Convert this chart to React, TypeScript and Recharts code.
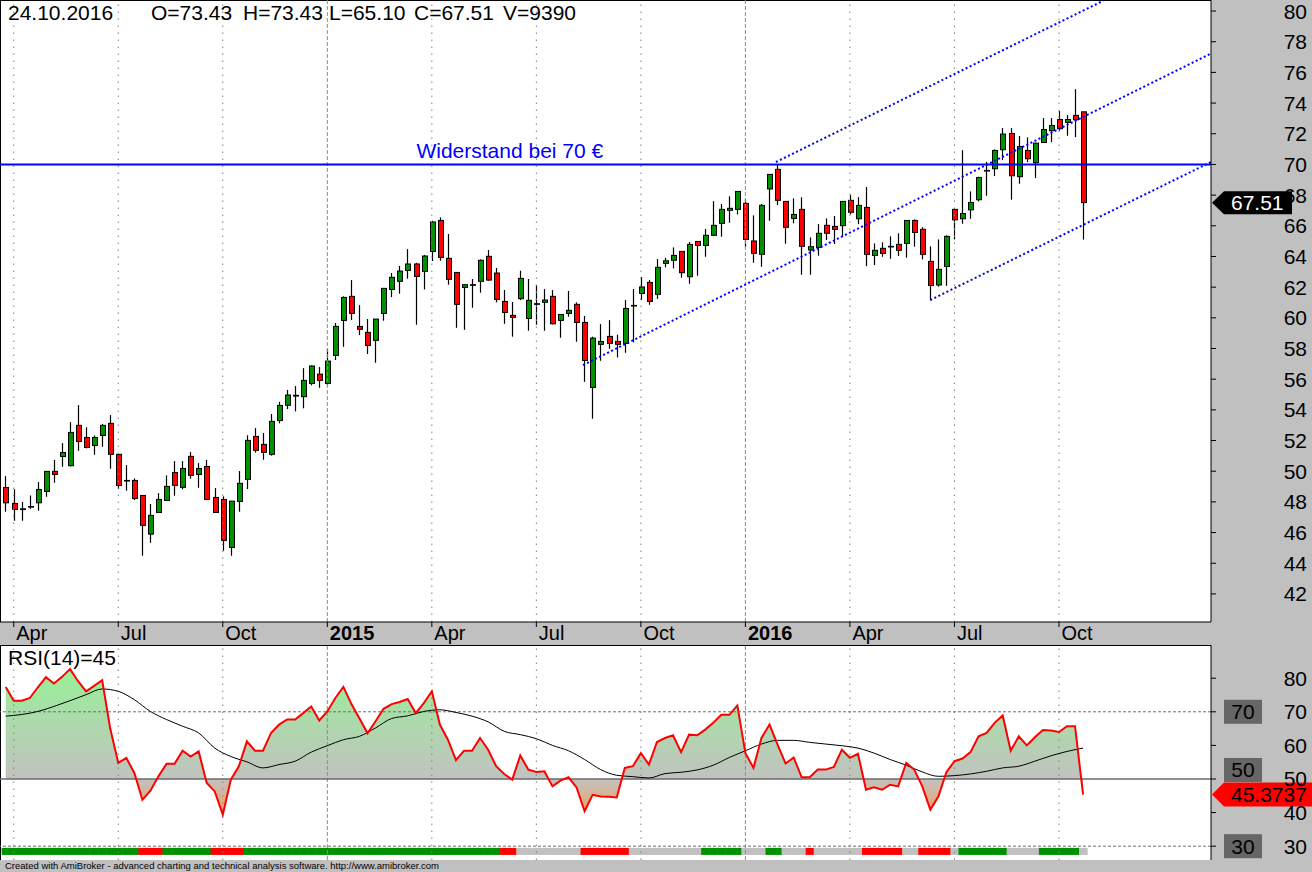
import React from 'react';
import { ComposedChart, Bar, Area, Line, XAxis, YAxis, ReferenceLine, ReferenceDot } from 'recharts';

const FONT = "'Liberation Sans', Arial, sans-serif";
const GREEN = '#009000';
const RED = '#ff0000';
const BLUE = '#0000ff';

// ---- weekly OHLC, 31.03.2014 .. 24.10.2016 ----
const opens = [
  48.94, 47.90, 47.50, 47.66, 47.94, 48.68, 49.99, 50.96, 50.36, 52.99,
  52.20, 51.68, 52.33, 53.12, 51.10, 49.36, 49.40, 48.42, 45.90, 47.31,
  48.10, 49.92, 48.95, 50.97, 49.79, 50.31, 48.29, 48.16, 45.03, 48.03,
  49.47, 52.27, 51.75, 51.10, 53.31, 54.30, 54.90, 54.86, 55.72, 56.33,
  55.72, 57.55, 59.83, 61.40, 59.44, 59.05, 58.53, 60.29, 61.85, 62.38,
  63.09, 63.51, 63.03, 64.33, 66.35, 63.88, 62.96, 61.98, 62.12, 62.38,
  64.01, 62.92, 61.07, 60.16, 61.25, 59.96, 60.88, 61.01, 61.40, 59.83,
  60.29, 60.88, 59.70, 55.46, 58.27, 58.79, 58.46, 58.33, 60.77, 61.59,
  62.31, 61.53, 63.55, 63.75, 64.33, 62.68, 64.98, 64.72, 65.38, 66.16,
  67.01, 67.07, 67.46, 65.01, 64.14, 68.40, 69.68, 67.59, 66.48, 67.07,
  64.42, 64.59, 66.03, 65.96, 66.01, 67.66, 66.46, 67.20, 64.07, 64.53,
  64.62, 64.79, 64.85, 66.35, 65.77, 63.68, 62.14, 63.35, 67.07, 66.46,
  67.04, 67.70, 69.57, 69.72, 70.96, 72.02, 69.20, 70.91, 70.11, 71.43,
  72.20, 72.93, 72.74, 73.20, 73.43,
];
const highs = [
  49.68, 48.83, 47.99, 48.42, 49.29, 49.99, 50.73, 51.83, 53.20, 54.31,
  52.86, 52.33, 53.09, 53.66, 51.12, 50.40, 49.53, 48.44, 47.86, 48.57,
  49.73, 50.66, 50.66, 51.25, 50.53, 50.73, 48.90, 48.36, 48.07, 50.01,
  52.34, 52.81, 52.49, 53.73, 54.53, 55.30, 55.55, 56.72, 56.90, 56.79,
  57.98, 59.66, 61.40, 62.46, 60.83, 59.92, 59.92, 61.95, 62.92, 63.38,
  64.48, 63.59, 64.10, 66.33, 66.55, 65.46, 62.98, 62.18, 62.53, 63.81,
  64.42, 63.25, 61.81, 61.03, 63.07, 62.53, 62.14, 61.88, 61.81, 60.24,
  61.75, 61.01, 60.12, 58.77, 59.59, 59.85, 58.90, 61.16, 61.88, 62.66,
  62.46, 63.83, 63.92, 64.59, 64.35, 64.94, 65.00, 65.79, 67.61, 67.42,
  67.92, 68.26, 67.74, 66.68, 67.42, 69.37, 70.03, 67.61, 67.79, 67.85,
  65.24, 66.11, 66.48, 66.64, 67.61, 68.01, 67.87, 68.53, 64.85, 64.92,
  65.31, 65.51, 66.37, 66.42, 65.90, 64.66, 65.11, 65.38, 67.13, 70.93,
  68.24, 69.20, 70.17, 70.98, 72.37, 72.37, 71.85, 71.76, 71.41, 73.02,
  73.02, 73.48, 73.22, 74.91, 73.43,
];
const lows = [
  47.36, 46.77, 46.77, 47.55, 47.42, 48.33, 49.25, 50.29, 50.31, 51.33,
  51.49, 51.07, 51.59, 50.16, 48.83, 48.73, 48.12, 44.49, 45.33, 47.29,
  48.08, 48.40, 48.82, 49.51, 48.92, 48.14, 47.29, 44.81, 44.49, 47.36,
  48.84, 51.21, 50.75, 51.01, 53.12, 54.05, 53.90, 54.10, 55.60, 55.44,
  55.60, 57.25, 58.11, 59.86, 58.88, 57.64, 57.07, 59.81, 61.35, 61.57,
  62.55, 59.55, 61.85, 63.70, 63.72, 62.16, 59.35, 59.22, 60.66, 61.64,
  62.42, 61.01, 59.61, 58.77, 61.16, 59.16, 59.55, 59.16, 59.57, 58.70,
  60.07, 58.44, 55.83, 53.42, 57.20, 57.98, 57.42, 57.72, 58.40, 61.16,
  60.85, 61.24, 63.29, 63.22, 62.61, 62.22, 62.74, 63.98, 65.36, 65.29,
  66.20, 66.74, 64.60, 63.59, 63.33, 66.33, 67.35, 64.83, 66.16, 62.81,
  62.81, 64.05, 65.07, 64.81, 65.29, 66.74, 66.11, 63.37, 63.44, 63.98,
  63.85, 64.03, 63.92, 64.64, 63.81, 61.14, 62.03, 62.09, 65.11, 66.13,
  66.46, 67.59, 67.96, 69.24, 70.28, 67.70, 68.74, 70.15, 69.11, 71.41,
  71.46, 72.20, 71.87, 71.78, 65.10,
];
const closes = [
  47.94, 47.51, 47.55, 47.70, 48.81, 49.99, 49.79, 51.22, 52.53, 51.94,
  51.55, 52.20, 52.99, 51.10, 49.07, 49.40, 48.22, 46.47, 47.12, 48.16,
  49.01, 49.08, 50.18, 49.73, 50.18, 48.16, 47.31, 45.49, 48.05, 49.21,
  52.01, 51.36, 51.23, 53.25, 54.29, 54.97, 54.95, 55.92, 56.86, 55.92,
  57.18, 59.44, 61.33, 60.29, 59.25, 58.20, 59.92, 61.92, 62.64, 63.05,
  63.51, 62.70, 64.03, 66.25, 63.94, 62.51, 60.88, 62.16, 62.16, 63.75,
  62.46, 61.20, 60.35, 60.03, 62.57, 61.14, 60.92, 61.16, 59.61, 60.22,
  60.49, 59.70, 57.22, 58.68, 58.46, 58.33, 58.27, 60.61, 60.81, 62.01,
  61.07, 63.29, 63.72, 64.07, 62.94, 64.79, 64.72, 65.38, 66.03, 67.07,
  67.14, 68.24, 65.11, 64.20, 67.33, 69.35, 67.66, 65.90, 66.74, 64.66,
  64.64, 65.51, 65.51, 65.77, 67.59, 66.88, 67.33, 64.14, 64.40, 64.20,
  64.66, 64.40, 66.35, 65.57, 64.14, 62.11, 63.16, 65.31, 66.39, 66.80,
  67.52, 69.15, 69.61, 70.91, 71.98, 69.26, 71.17, 70.37, 71.39, 72.28,
  72.54, 72.33, 72.93, 72.91, 67.51,
];

// ---- RSI(14) ----
const rsi14 = [
  77.4, 73.3, 73.3, 74.1, 77.3, 80.3, 78.4, 80.4, 82.7, 79.1,
  76.1, 77.7, 79.4, 65.0, 54.8, 56.3, 51.8, 43.8, 46.5, 50.8,
  54.5, 54.5, 58.4, 56.7, 58.2, 48.8, 46.3, 39.4, 49.8, 53.8,
  61.2, 58.4, 58.4, 63.7, 66.2, 67.7, 67.7, 69.6, 71.6, 67.4,
  70.1, 74.1, 77.4, 72.3, 68.0, 63.6, 67.2, 70.9, 72.3, 72.9,
  73.8, 69.6, 72.6, 76.1, 66.2, 61.7, 55.6, 58.4, 58.4, 62.2,
  58.7, 53.8, 51.5, 49.8, 57.0, 52.8, 52.1, 52.3, 47.8, 49.5,
  50.5, 47.5, 40.4, 45.3, 44.8, 44.7, 44.5, 53.3, 53.8, 57.7,
  54.3, 61.0, 62.2, 63.0, 58.0, 63.2, 63.0, 64.7, 66.7, 69.1,
  69.1, 71.9, 57.7, 53.3, 62.2, 66.2, 60.2, 54.6, 56.4, 50.5,
  50.5, 52.8, 52.8, 53.6, 58.7, 56.3, 57.5, 46.8, 47.5, 46.8,
  48.3, 47.8, 54.8, 52.8, 47.8, 40.9, 44.8, 52.0, 55.3, 56.1,
  58.0, 62.7, 63.7, 66.7, 68.9, 58.4, 62.7, 60.0, 62.4, 64.6,
  64.4, 64.0, 65.7, 65.7, 45.37,
];
// smoothed RSI line, read at every second week (weeks 0, 2, 4, ... 134)
const rsiSmoothEven = [
  68.7, 69.2, 70.1, 71.6, 73.3, 75.1, 76.8, 76.1, 73.6, 70.1,
  67.7, 65.7, 63.7, 59.2, 56.7, 55.1, 53.3, 54.3, 55.3, 58.0,
  59.9, 61.7, 62.7, 65.2, 68.0, 68.8, 70.1, 70.6, 69.8, 68.7,
  67.0, 64.2, 63.2, 62.0, 60.0, 58.4, 55.8, 52.8, 51.1, 50.7,
  50.3, 51.6, 52.0, 52.7, 54.1, 56.4, 58.4, 60.4, 61.5, 61.5,
  60.9, 60.4, 59.9, 59.2, 57.7, 55.8, 54.1, 52.1, 50.8, 51.0,
  51.5, 52.3, 53.3, 53.8, 55.3, 56.9, 58.2, 59.2,
];
// signal strip: G = green, R = red, N = neutral
const signalRuns: [string, number][] = [
  ['G', 17], ['R', 3], ['G', 6], ['R', 4], ['G', 32], ['R', 2], ['N', 8], ['R', 6],
  ['N', 9], ['G', 5], ['N', 3], ['G', 2], ['N', 3], ['R', 1], ['N', 6], ['R', 5],
  ['N', 2], ['R', 4], ['N', 1], ['G', 6], ['N', 4], ['G', 5], ['N', 1],
];
const signalBand: [number, number] = [27.4, 29.5];

// ---- axes ----
const dateTicks = [1, 14, 27, 40, 53, 66, 79, 92, 105, 118, 131];
const dateTickLabels = ['Apr', 'Jul', 'Oct', '2015', 'Apr', 'Jul', 'Oct', '2016', 'Apr', 'Jul', 'Oct'];
const yearTicks = [40, 92];
const priceTicks = [42, 44, 46, 48, 50, 52, 54, 56, 58, 60, 62, 64, 66, 68, 70, 72, 74, 76, 78, 80];
const rsiTicks = [30, 40, 50, 60, 70, 80];
const rsiLevels = [70, 50, 30];

const X_DOMAIN: [number, number] = [-0.71, 149.91];
const PRICE_DOMAIN: [number, number] = [40.17, 80.72];
const RSI_DOMAIN: [number, number] = [25.89, 89.88];

// ---- annotations ----
const resistanceLevel = 70;
const resistanceText = 'Widerstand bei 70 €';
const resistanceLabelAt = 62.7;
const channelLines = [
  [{ x: 71.8, y: 56.92 }, { x: 149.91, y: 77.23 }],
  [{ x: 115.0, y: 61.16 }, { x: 149.91, y: 70.16 }],
  [{ x: 95.8, y: 70.16 }, { x: 136.5, y: 80.67 }],
];
const headerItems = [
  { t: '24.10.2016', x: 8 },
  { t: 'O=73.43', x: 151 },
  { t: 'H=73.43', x: 243 },
  { t: 'L=65.10', x: 329 },
  { t: 'C=67.51', x: 414 },
  { t: 'V=9390', x: 503 },
];
const lastClose = 67.51;
const lastRsi = 45.3737;

// ---- rows ----
const priceRows = opens.map((o, i) => ({
  i,
  o,
  h: highs[i],
  l: lows[i],
  c: closes[i],
  range: [lows[i], highs[i]],
}));

const signalPerWeek: string[] = [];
signalRuns.forEach(([s, n]) => {
  for (let k = 0; k < n; k++) signalPerWeek.push(s);
});

const rsiRows = rsi14.map((v, i) => ({
  i,
  rsi: v,
  ma: i % 2 === 0 ? rsiSmoothEven[i / 2] : null,
  sig: signalPerWeek[i],
  sigRange: signalBand,
}));

const rsiMax = Math.max(...rsi14);
const rsiMin = Math.min(...rsi14);
const midOffset = (rsiMax - 50) / (rsiMax - rsiMin);

const sigColor: Record<string, string> = { G: GREEN, R: RED, N: '#c0c0c0' };

// ---- shapes ----
const Candle = (props: any) => {
  const { x, y, width, height, payload } = props;
  if (!payload || y == null || height == null) return <g />;
  const { o, h, l, c } = payload;
  const cx = x + width / 2;
  const base = Math.round(cx);
  const k = h === l ? 0 : height / (h - l);
  const yO = y + (h - o) * k;
  const yC = y + (h - c) * k;
  const top = Math.min(yO, yC);
  const bh = Math.max(Math.abs(yO - yC), 0.6);
  const fill = c >= o ? GREEN : RED;
  return (
    <g>
      <line x1={base + 0.5} x2={base + 0.5} y1={y} y2={y + height} stroke="#000" strokeWidth={1.2} />
      <rect x={base - 1.5} y={top} width={5} height={bh} fill={fill} stroke="#000" strokeWidth={1} />
    </g>
  );
};

const SignalCell = (props: any) => {
  const { x, y, width, height, payload } = props;
  if (!payload || y == null) return <g />;
  return <rect x={x} y={y} width={width + 0.6} height={height} fill={sigColor[payload.sig]} />;
};

const DateTick = (props: any) => {
  const { x, y, payload } = props;
  const idx = dateTicks.indexOf(payload.value);
  const label = dateTickLabels[idx] ?? '';
  const isYear = yearTicks.includes(payload.value);
  return (
    <text x={x + 2.5} y={y + 11} fontSize={20} fontFamily={FONT} fontWeight={isYear ? 'bold' : 'normal'} fill="#000">
      {label}
    </text>
  );
};

const ValueTick = (props: any) => {
  const { x, y, payload } = props;
  return (
    <text x={x + 89} y={y + 7.5} textAnchor="end" fontSize={21} fontFamily={FONT} fill="#000">
      {payload.value}
    </text>
  );
};

const ResistanceLabel = (props: any) => (
  <text x={props.cx} y={props.cy - 6} textAnchor="middle" fontSize={21} fontFamily={FONT} fill={BLUE}>
    {resistanceText}
  </text>
);

const PriceMarker = (props: any) => {
  const { cx, cy } = props;
  const pts = `${cx + 1},${cy} ${cx + 13},${cy - 11.5} ${cx + 81},${cy - 11.5} ${cx + 81},${cy + 11.5} ${cx + 13},${cy + 11.5}`;
  return (
    <g>
      <polygon points={pts} fill="#000" />
      <text x={cx + 20} y={cy + 7.5} fontSize={21} fontFamily={FONT} fill="#fff">{lastClose.toFixed(2)}</text>
    </g>
  );
};

const RsiMarker = (props: any) => {
  const { cx, cy } = props;
  const pts = `${cx + 1},${cy} ${cx + 13},${cy - 12} ${cx + 101},${cy - 12} ${cx + 101},${cy + 12} ${cx + 13},${cy + 12}`;
  return (
    <g>
      <polygon points={pts} fill={RED} />
      <text x={cx + 20} y={cy + 7.5} fontSize={21} fontFamily={FONT} fill="#000">{lastRsi.toFixed(4)}</text>
    </g>
  );
};

const LevelBox = (level: number) => (props: any) => {
  const { cx } = props;
  const cy = props.cy + (level === 50 ? -9 : 0);
  return (
    <g>
      <rect x={cx + 13} y={cy - 12} width={38} height={24} fill="#666666" />
      <text x={cx + 32} y={cy + 7.5} textAnchor="middle" fontSize={21} fontFamily={FONT} fill="#000">{level}</text>
    </g>
  );
};

const monthTicks = dateTicks.filter((t) => !yearTicks.includes(t));

const verticalGrid = () => [
  ...monthTicks.map((t) => (
    <ReferenceLine key={`m${t}`} x={t} stroke="#808080" strokeWidth={1} strokeDasharray="1.5 5.5" />
  )),
  ...yearTicks.map((t) => (
    <ReferenceLine key={`y${t}`} x={t} stroke="#8c8c8c" strokeWidth={1} strokeDasharray="4 2" />
  )),
];

const PriceChart = () => (
  <ComposedChart width={1312} height={645} data={priceRows} margin={{ top: 0, right: 0, bottom: 0, left: 0 }}>
    <XAxis
      dataKey="i"
      type="number"
      domain={X_DOMAIN}
      allowDataOverflow
      ticks={dateTicks}
      interval={0}
      height={23}
      axisLine={{ stroke: '#000' }}
      tickLine={{ stroke: '#000' }}
      tickSize={5}
      tick={(p: any) => <DateTick {...p} />}
    />
    <YAxis
      orientation="right"
      type="number"
      domain={PRICE_DOMAIN}
      allowDataOverflow
      ticks={priceTicks}
      interval={0}
      width={101}
      axisLine={{ stroke: '#000' }}
      tickLine={{ stroke: '#000' }}
      tickSize={5}
      tick={(p: any) => <ValueTick {...p} />}
    />
    {verticalGrid()}
    <Bar dataKey="range" shape={(p: any) => <Candle {...p} />} isAnimationActive={false} />
    <ReferenceLine y={resistanceLevel} stroke={BLUE} strokeWidth={2} />
    {channelLines.map((seg, k) => (
      <ReferenceLine key={`c${k}`} segment={seg} stroke={BLUE} strokeWidth={2} strokeDasharray="2 2.5" ifOverflow="visible" />
    ))}
    <ReferenceDot x={resistanceLabelAt} y={resistanceLevel} r={0} ifOverflow="visible" shape={(p: any) => <ResistanceLabel {...p} />} />
    <ReferenceDot x={X_DOMAIN[1]} y={lastClose} r={0} ifOverflow="visible" shape={(p: any) => <PriceMarker {...p} />} />
  </ComposedChart>
);

const RsiChart = () => (
  <ComposedChart width={1312} height={215} data={rsiRows} margin={{ top: 0, right: 0, bottom: 0, left: 0 }} barCategoryGap={0}>
    <defs>
      <linearGradient id="rsiFill" x1="0" y1="0" x2="0" y2="1">
        <stop offset="0" stopColor="#98f098" />
        <stop offset={midOffset} stopColor="#c2c2c0" />
        <stop offset="1" stopColor="#f2a060" />
      </linearGradient>
    </defs>
    <XAxis dataKey="i" type="number" domain={X_DOMAIN} allowDataOverflow hide />
    <YAxis
      orientation="right"
      type="number"
      domain={RSI_DOMAIN}
      allowDataOverflow
      ticks={rsiTicks}
      interval={0}
      width={101}
      axisLine={{ stroke: '#000' }}
      tickLine={{ stroke: '#000' }}
      tickSize={5}
      tick={(p: any) => <ValueTick {...p} />}
    />
    {verticalGrid()}
    <ReferenceLine y={70} stroke="#707070" strokeDasharray="3 2" />
    <ReferenceLine y={30} stroke="#707070" strokeDasharray="3 2" />
    <Area dataKey="rsi" baseValue={50} stroke="none" fill="url(#rsiFill)" fillOpacity={1} isAnimationActive={false} />
    <ReferenceLine y={50} stroke="#6a6a6a" strokeWidth={1.5} />
    <Line dataKey="ma" stroke="#000" strokeWidth={1} dot={false} connectNulls type="monotone" isAnimationActive={false} />
    <Line dataKey="rsi" stroke={RED} strokeWidth={2} dot={false} type="linear" isAnimationActive={false} />
    <Bar dataKey="sigRange" shape={(p: any) => <SignalCell {...p} />} isAnimationActive={false} />
    {rsiLevels.map((lv) => (
      <ReferenceDot key={`lv${lv}`} x={X_DOMAIN[1]} y={lv} r={0} ifOverflow="visible" shape={LevelBox(lv)} />
    ))}
    <ReferenceDot x={X_DOMAIN[1]} y={lastRsi} r={0} ifOverflow="visible" shape={(p: any) => <RsiMarker {...p} />} />
  </ComposedChart>
);

export default function App() {
  return (
    <div style={{ position: 'absolute', left: 0, top: 0, width: 1312, height: 872, background: '#c0c0c0', overflow: 'hidden', fontFamily: FONT }}>
      <div style={{ position: 'absolute', left: 0, top: 0, width: 1211, height: 622, background: '#fff', borderLeft: '1px solid #000', borderTop: '1px solid #000', boxSizing: 'border-box' }} />
      <div style={{ position: 'absolute', left: 0, top: 645, width: 1211, height: 215, background: '#fff', borderLeft: '1px solid #000', borderTop: '1px solid #000', boxSizing: 'border-box' }} />
      <div style={{ position: 'absolute', left: 0, top: 0 }}>
        <PriceChart />
      </div>
      <div style={{ position: 'absolute', left: 0, top: 645 }}>
        <RsiChart />
      </div>
      <svg width={1312} height={872} style={{ position: 'absolute', left: 0, top: 0, pointerEvents: 'none' }}>
        {headerItems.map((h) => (
          <text key={h.t} x={h.x} y={20} fontSize={21} fontFamily={FONT} fill="#000">{h.t}</text>
        ))}
        <text x={8} y={665} fontSize={21} fontFamily={FONT} fill="#000">RSI(14)=45</text>
        <text x={5} y={869} fontSize={9.5} fontFamily={FONT} fill="#000">
          Created with AmiBroker - advanced charting and technical analysis software. http://www.amibroker.com
        </text>
      </svg>
    </div>
  );
}
